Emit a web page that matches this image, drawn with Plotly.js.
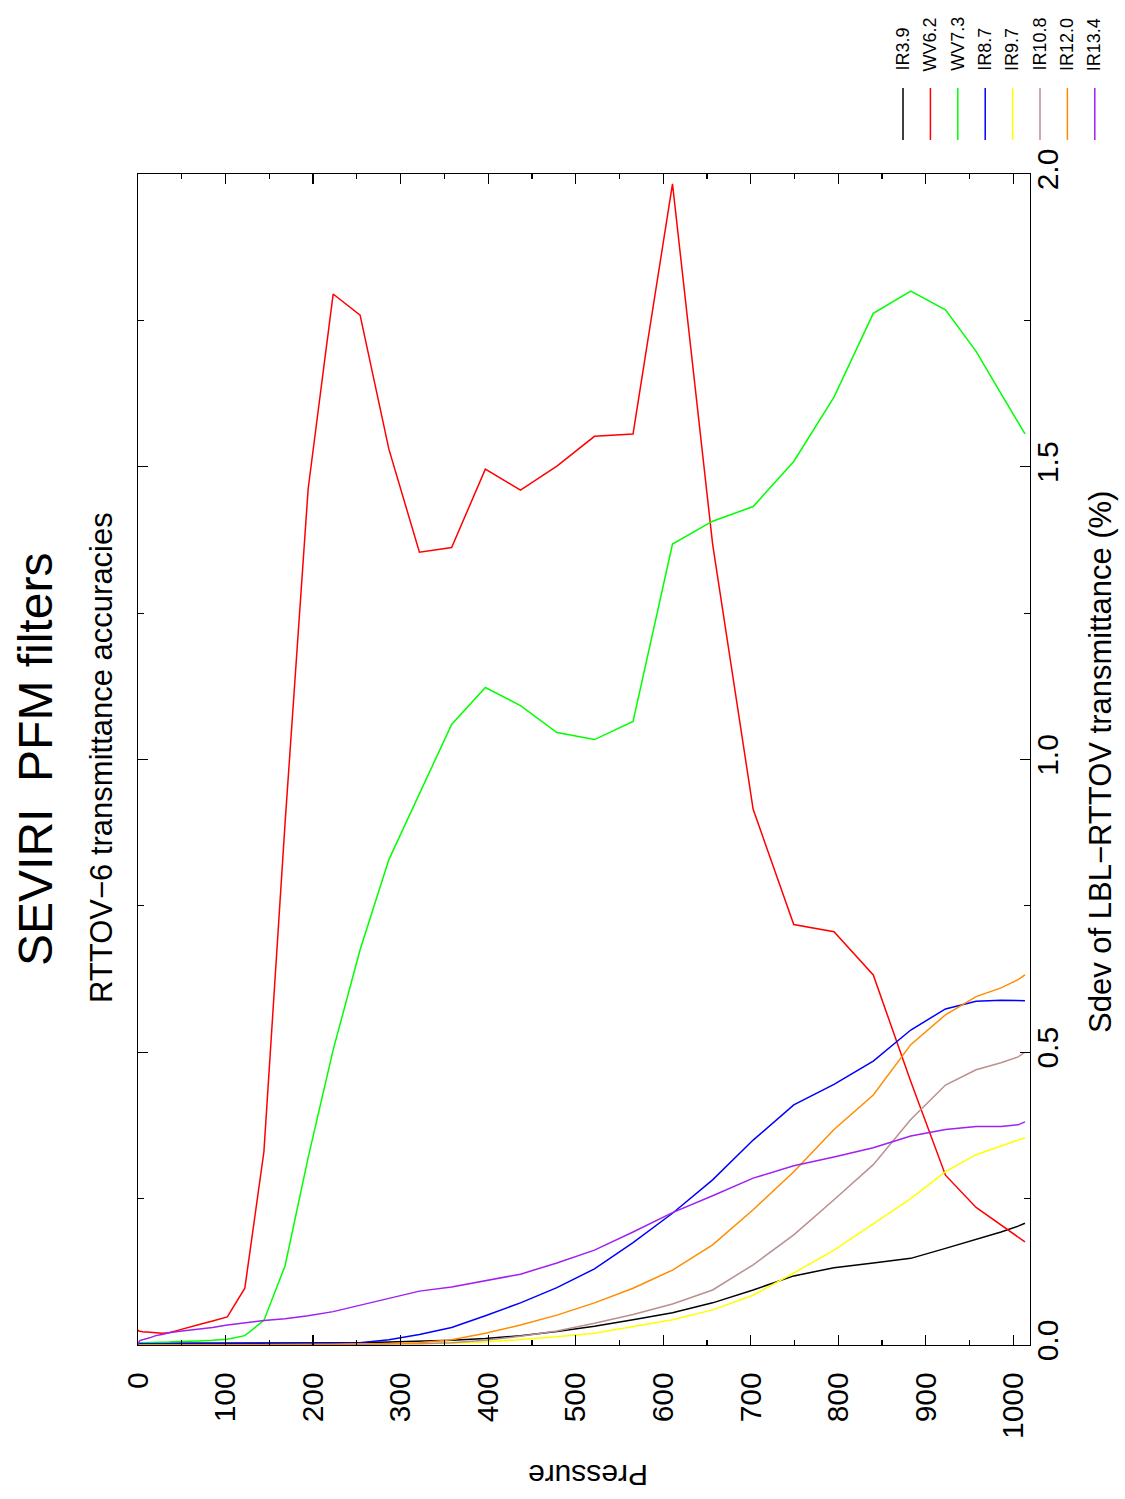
<!DOCTYPE html>
<html>
<head>
<meta charset="utf-8">
<script src="https://cdn.plot.ly/plotly-3.0.1.min.js"></script>
<style>
  html, body { margin: 0; padding: 0; background: #ffffff; }
  #chart { width: 1125px; height: 1499px; }
</style>
</head>
<body>
<div id="chart"></div>
<script>
// RTTOV pressure levels (hPa)
const pressure = [0.1, 0.29, 0.69, 1.42, 2.611, 4.407, 6.95, 10.37, 14.81, 20.4,
  27.26, 35.51, 45.29, 56.73, 69.97, 85.18, 102.05, 122.04, 143.84, 167.95,
  194.36, 222.94, 253.71, 286.6, 321.5, 358.28, 396.81, 436.95, 478.54, 521.46,
  565.54, 610.6, 656.43, 702.73, 749.12, 795.09, 839.95, 882.8, 922.46, 957.44,
  985.88, 1005.43, 1013.25];

const seriesNames = ["IR3.9", "WV6.2", "WV7.3", "IR8.7", "IR9.7", "IR10.8", "IR12.0", "IR13.4"];
const seriesColors = ["#000000", "#ff0000", "#00ff00", "#0000ff", "#ffff00", "#bc8f8f", "#ff8c00", "#a020f0"];

const ir39 = [0.000, 0.001, 0.002, 0.002, 0.003, 0.003, 0.003, 0.004, 0.004, 0.004,
  0.004, 0.004, 0.004, 0.004, 0.004, 0.004, 0.004, 0.004, 0.004, 0.004,
  0.004, 0.004, 0.004, 0.005, 0.006, 0.008, 0.011, 0.016, 0.023, 0.032,
  0.043, 0.055, 0.072, 0.094, 0.118, 0.132, 0.140, 0.148, 0.165, 0.180,
  0.193, 0.203, 0.208];

const wv62 = [0.026, 0.025, 0.024, 0.024, 0.023, 0.023, 0.022, 0.022, 0.021, 0.021,
  0.020, 0.021, 0.025, 0.030, 0.035, 0.041, 0.048, 0.097, 0.330, 0.890,
  1.462, 1.795, 1.759, 1.530, 1.354, 1.362, 1.496, 1.460, 1.501, 1.552,
  1.556, 1.983, 1.368, 0.915, 0.718, 0.706, 0.632, 0.450, 0.290, 0.235,
  0.205, 0.185, 0.176];

const wv73 = [0.001, 0.002, 0.003, 0.003, 0.004, 0.004, 0.004, 0.004, 0.004, 0.005,
  0.005, 0.005, 0.006, 0.006, 0.007, 0.008, 0.010, 0.016, 0.042, 0.135,
  0.320, 0.504, 0.675, 0.829, 0.940, 1.060, 1.123, 1.092, 1.046, 1.034,
  1.065, 1.368, 1.407, 1.432, 1.509, 1.619, 1.762, 1.800, 1.768, 1.697,
  1.625, 1.577, 1.556];

const ir87 = [0.000, 0.001, 0.001, 0.002, 0.002, 0.002, 0.002, 0.002, 0.002, 0.002,
  0.002, 0.002, 0.002, 0.002, 0.002, 0.002, 0.002, 0.002, 0.002, 0.002,
  0.002, 0.003, 0.004, 0.009, 0.018, 0.030, 0.050, 0.072, 0.098, 0.130,
  0.175, 0.225, 0.282, 0.350, 0.410, 0.445, 0.485, 0.538, 0.574, 0.587,
  0.589, 0.589, 0.588];

const ir97 = [0.000, 0.000, 0.000, 0.000, 0.001, 0.001, 0.001, 0.001, 0.001, 0.001,
  0.001, 0.001, 0.001, 0.001, 0.001, 0.001, 0.001, 0.001, 0.001, 0.001,
  0.001, 0.001, 0.001, 0.002, 0.002, 0.003, 0.005, 0.009, 0.014, 0.020,
  0.031, 0.043, 0.060, 0.085, 0.123, 0.162, 0.207, 0.250, 0.296, 0.325,
  0.340, 0.350, 0.354];

const ir108 = [0.000, 0.000, 0.000, 0.001, 0.001, 0.001, 0.001, 0.001, 0.001, 0.001,
  0.001, 0.001, 0.001, 0.001, 0.001, 0.001, 0.001, 0.001, 0.001, 0.001,
  0.001, 0.001, 0.001, 0.002, 0.002, 0.004, 0.008, 0.015, 0.024, 0.037,
  0.052, 0.070, 0.094, 0.137, 0.188, 0.248, 0.308, 0.385, 0.444, 0.470,
  0.482, 0.492, 0.500];

const ir120 = [0.000, 0.000, 0.001, 0.001, 0.001, 0.001, 0.001, 0.001, 0.001, 0.001,
  0.001, 0.001, 0.001, 0.001, 0.001, 0.001, 0.001, 0.001, 0.001, 0.001,
  0.001, 0.001, 0.002, 0.002, 0.004, 0.009, 0.020, 0.034, 0.051, 0.072,
  0.097, 0.128, 0.171, 0.231, 0.296, 0.368, 0.427, 0.513, 0.564, 0.595,
  0.610, 0.624, 0.632];

const ir134 = [0.000, 0.002, 0.004, 0.006, 0.008, 0.009, 0.010, 0.011, 0.013, 0.016,
  0.018, 0.021, 0.023, 0.025, 0.027, 0.030, 0.034, 0.038, 0.042, 0.045,
  0.050, 0.057, 0.068, 0.080, 0.092, 0.099, 0.110, 0.121, 0.140, 0.162,
  0.193, 0.226, 0.255, 0.285, 0.306, 0.321, 0.337, 0.357, 0.368, 0.373,
  0.373, 0.376, 0.381];

const seriesValues = [ir39, wv62, wv73, ir87, ir97, ir108, ir120, ir134];

const pressureTicks = [0, 100, 200, 300, 400, 500, 600, 700, 800, 900, 1000];
const pressureTickText = ["0", "100", "200", "300", "400", "500", "600", "700", "800", "900", "1000"];
const sdevTicks = [0, 0.5, 1.0, 1.5, 2.0];
const sdevTickText = ["0.0", "0.5", "1.0", "1.5", "2.0"];

const titleText = "SEVIRI\u00a0\u00a0PFM filters";
const subtitleText = "RTTOV\u22126 transmittance accuracies";
const xTitleText = "Pressure";
const yTitleText = "Sdev of LBL\u2212RTTOV transmittance (%)";

const FONT = "'Liberation Sans', Arial, Helvetica, sans-serif";

const traces = seriesNames.map((name, i) => ({
  type: "scatter",
  mode: "lines",
  name: name,
  x: pressure,
  y: seriesValues[i],
  line: { color: seriesColors[i], width: 1.5 },
  showlegend: false,
  hoverinfo: "skip"
}));

// plot area in pixels: left 138, right 1030, top 174, bottom 1345
const W = 1125, H = 1499;
const L = 138, R = 1030, T = 174, B = 1345;
const px = (x) => (x - L) / (R - L);
const py = (y) => (B - y) / (B - T);

const annotations = [
  { text: titleText, x: px(35), y: py(760), xref: "paper", yref: "paper",
    textangle: -90, showarrow: false, xanchor: "center", yanchor: "middle",
    font: { family: FONT, size: 48, color: "#000" } },
  { text: subtitleText, x: px(101), y: py(758), xref: "paper", yref: "paper",
    textangle: -90, showarrow: false, xanchor: "center", yanchor: "middle",
    font: { family: FONT, size: 31, color: "#000" } },
  { text: yTitleText, x: px(1100), y: py(762), xref: "paper", yref: "paper",
    textangle: -90, showarrow: false, xanchor: "center", yanchor: "middle",
    font: { family: FONT, size: 31, color: "#000" } },
  { text: xTitleText, x: px(588), y: py(1476), xref: "paper", yref: "paper",
    textangle: 180, showarrow: false, xanchor: "center", yanchor: "middle",
    font: { family: FONT, size: 30, color: "#000" } }
];

const shapes = [];
const legX0 = 903, legStep = 27.4;
seriesNames.forEach((name, i) => {
  const lx = legX0 + i * legStep;
  shapes.push({ type: "line", xref: "paper", yref: "paper",
    x0: px(lx), x1: px(lx), y0: py(140), y1: py(88),
    line: { color: seriesColors[i], width: 1.5 } });
  annotations.push({ text: name, x: px(lx), y: py(73), xref: "paper", yref: "paper",
    textangle: -90, showarrow: false, xanchor: "center", yanchor: "bottom",
    font: { family: FONT, size: 18, color: "#000" } });
});

const layout = {
  width: W, height: H,
  margin: { l: L, r: W - R, t: T, b: H - B, pad: 0 },
  paper_bgcolor: "#ffffff",
  plot_bgcolor: "#ffffff",
  showlegend: false,
  font: { family: FONT, color: "#000" },
  xaxis: {
    range: [0, 1019],
    tickmode: "array", tickvals: pressureTicks, ticktext: pressureTickText,
    ticks: "inside", ticklen: 10, tickwidth: 1.3, tickcolor: "#000",
    showline: true, linecolor: "#000", linewidth: 1.3, mirror: "allticks",
    tickangle: -90, ticklabelstandoff: 14,
    tickfont: { family: FONT, size: 30, color: "#000" },
    showgrid: false, zeroline: false,
    minor: { tickmode: "linear", tick0: 0, dtick: 50, ticks: "inside", ticklen: 5, tickwidth: 1.2, tickcolor: "#000", showgrid: false }
  },
  yaxis: {
    side: "right",
    range: [0, 2],
    tickmode: "array", tickvals: sdevTicks, ticktext: sdevTickText,
    ticks: "inside", ticklen: 10, tickwidth: 1.3, tickcolor: "#000",
    showline: true, linecolor: "#000", linewidth: 1.3, mirror: "allticks",
    tickangle: -90, ticklabelstandoff: -9,
    tickfont: { family: FONT, size: 30, color: "#000" },
    showgrid: false, zeroline: false,
    minor: { tickmode: "linear", tick0: 0, dtick: 0.25, ticks: "inside", ticklen: 6, tickwidth: 1.2, tickcolor: "#000", showgrid: false }
  },
  annotations: annotations,
  shapes: shapes
};

Plotly.newPlot("chart", traces, layout, { displayModeBar: false, staticPlot: true });
</script>
</body>
</html>
